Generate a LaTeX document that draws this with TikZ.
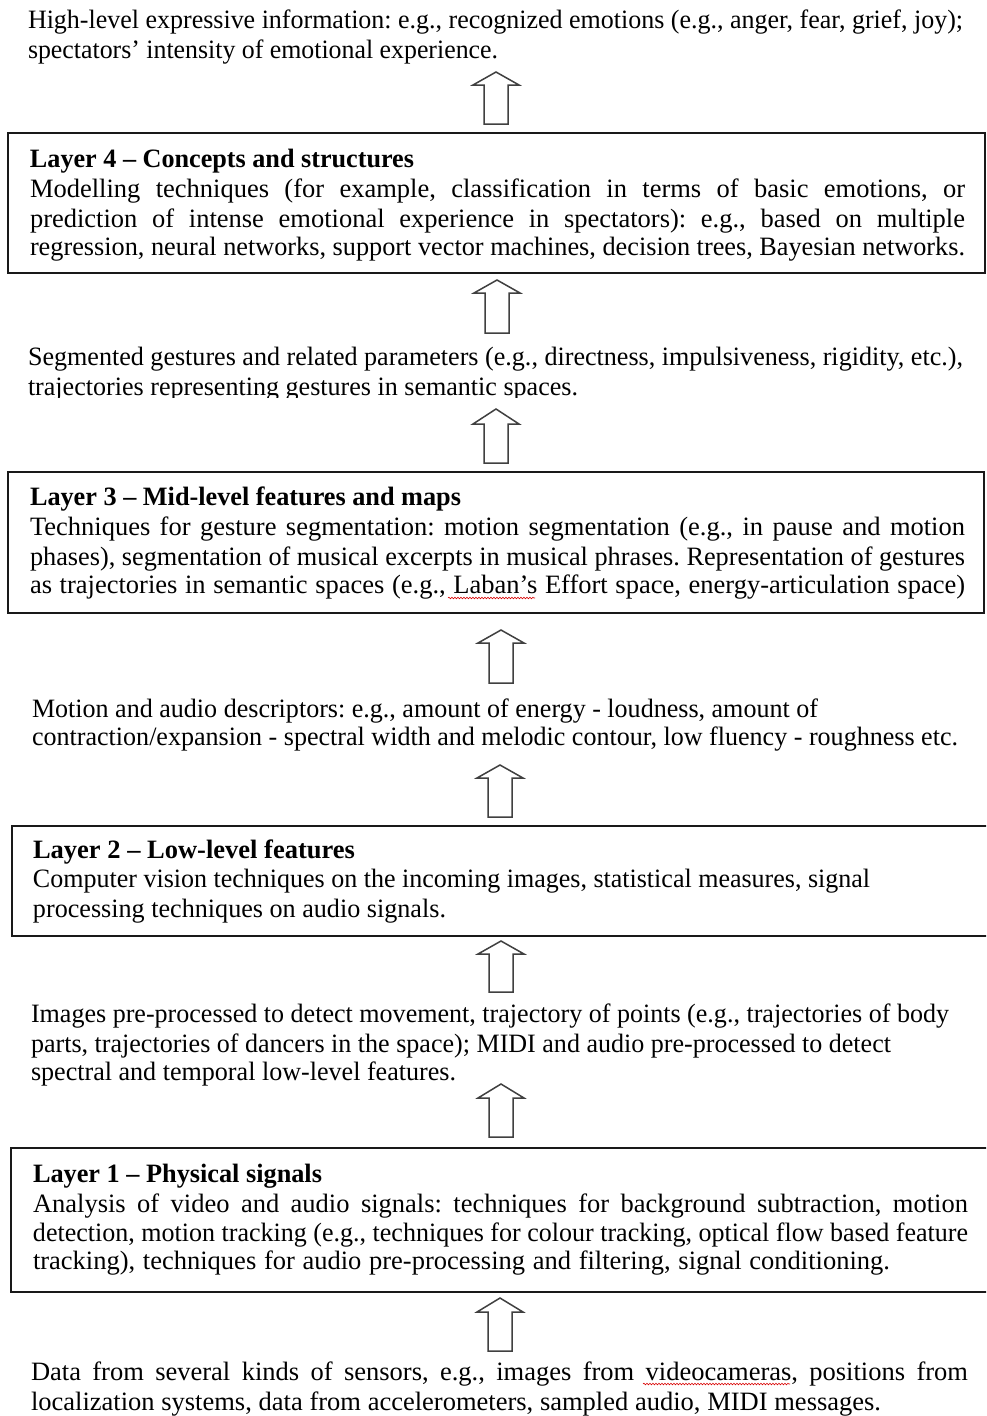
\documentclass[tikz,border=0pt]{standalone}
\usepackage{fontspec}
\setmainfont{Liberation Serif}
\usepackage{graphicx}
\usetikzlibrary{decorations.pathmorphing}
\frenchspacing
\newsavebox\fitbox
\newlength\fitw
\newcommand\fitline[2]{\sbox\fitbox{#2}\ifdim\wd\fitbox>#1\relax\resizebox{#1}{\height}{\usebox\fitbox}\else\makebox[#1][s]{#2}\fi}
\newcommand\tline[5]{\setlength\fitw{\dimexpr #4pt-#2pt\relax}\node[txt] (#1) at (#2,#3) {\fitline{\fitw}{#5}};}
\newcommand\blockarrow[5]{\coordinate (#1) at (#2,#3);
  \draw[arr] (#2-12,#5) -- (#2+12,#5) -- (#2+12,#4) -- (#2+23,#4) -- (#1) -- (#2-23,#4) -- (#2-12,#4) -- cycle;}
\tikzset{
  txt/.style={anchor=base west, inner sep=0pt, outer sep=0pt, font=\fontsize{26.5pt}{30pt}\selectfont\frenchspacing},
  layerbox/.style={draw=black!90, line width=2.4pt, anchor=north west, inner sep=0pt, outer sep=0pt},
  arr/.style={draw=black!75, line width=1.5pt, fill=white, line join=miter},
  squig/.style={draw=red!85!black, line width=0.6pt, decorate, decoration={snake, amplitude=0.8pt, segment length=3pt}}
}
\begin{document}
\begin{tikzpicture}[x=1pt, y=-1pt]
\clip (0,0) rectangle (986,1416);
\useasboundingbox (0,0) rectangle (986,1416);
\fill[white] (0,0) rectangle (986,1416);

% boxes
\node[layerbox, minimum width=977pt, minimum height=140pt] (L4) at (8,133) {};
\node[layerbox, minimum width=976pt, minimum height=141pt] (L3) at (8,472) {};
\node[layerbox, minimum width=980pt, minimum height=110pt] (L2) at (12,826) {};
\node[layerbox, minimum width=981pt, minimum height=144pt] (L1) at (11,1148) {};

% arrows
\blockarrow{a1}{496}{72}{85}{124}
\blockarrow{a2}{497}{280}{293}{333}
\blockarrow{a3}{496}{409}{424}{463}
\blockarrow{a4}{501}{630}{643}{683}
\blockarrow{a5}{500}{765}{778}{817}
\blockarrow{a6}{501}{941}{954}{992}
\blockarrow{a7}{501}{1084}{1098}{1137}
\blockarrow{a8}{500}{1298}{1312}{1351}

% text 1
\tline{t1a}{28}{28}{963}{High-level expressive information: e.g., recognized emotions (e.g., anger, fear, grief, joy);}
\tline{t1b}{28}{58}{498}{spectators’ intensity of emotional experience.}

% layer 4
\tline{l4t}{30}{167}{414}{\textbf{Layer 4 – Concepts and structures}}
\tline{l4a}{30}{197}{965}{Modelling techniques (for example, classification in terms of basic emotions, or}
\tline{l4b}{30}{227}{965}{prediction of intense emotional experience in spectators): e.g., based on multiple}
\tline{l4c}{30}{255}{965}{regression, neural networks, support vector machines, decision trees, Bayesian networks.}

% text 2
\tline{t2a}{28}{365}{963}{Segmented gestures and related parameters (e.g., directness, impulsiveness, rigidity, etc.),}
\begin{scope}
\clip (0,370) rectangle (986,397);
\tline{t2b}{28}{395}{578}{trajectories representing gestures in semantic spaces.}
\end{scope}

% layer 3
\tline{l3t}{30}{505}{461}{\textbf{Layer 3 – Mid-level features and maps}}
\tline{l3a}{30}{535}{965}{Techniques for gesture segmentation: motion segmentation (e.g., in pause and motion}
\tline{l3b}{30}{565}{965}{phases), segmentation of musical excerpts in musical phrases. Representation of gestures}
\tline{l3c}{30}{593}{965}{as trajectories in semantic spaces (e.g., Laban’s Effort space, energy-articulation space)}
\draw[squig] (448,598) -- (535,598);

% text 3
\tline{t3a}{32}{717}{818}{Motion and audio descriptors: e.g., amount of energy - loudness, amount of}
\tline{t3b}{32}{745}{958}{contraction/expansion - spectral width and melodic contour, low fluency - roughness etc.}

% layer 2
\tline{l2t}{33}{858}{355}{\textbf{Layer 2 – Low-level features}}
\tline{l2a}{33}{887}{870}{Computer vision techniques on the incoming images, statistical measures, signal}
\tline{l2b}{33}{917}{446}{processing techniques on audio signals.}

% text 4
\tline{t4a}{31}{1022}{949}{Images pre-processed to detect movement, trajectory of points (e.g., trajectories of body}
\tline{t4b}{31}{1052}{891}{parts, trajectories of dancers in the space); MIDI and audio pre-processed to detect}
\tline{t4c}{31}{1080}{456}{spectral and temporal low-level features.}

% layer 1
\tline{l1t}{33}{1182}{322}{\textbf{Layer 1 – Physical signals}}
\tline{l1a}{33}{1212}{968}{Analysis of video and audio signals: techniques for background subtraction, motion}
\tline{l1b}{33}{1241}{968}{detection, motion tracking (e.g., techniques for colour tracking, optical flow based feature}
\tline{l1c}{33}{1269}{890}{tracking), techniques for audio pre-processing and filtering, signal conditioning.}

% text 5
\tline{t5a}{31}{1380}{968}{Data from several kinds of sensors, e.g., images from videocameras, positions from}
\tline{t5b}{31}{1410}{881}{localization systems, data from accelerometers, sampled audio, MIDI messages.}
\draw[squig] (643,1384) -- (790,1384);
\end{tikzpicture}
\end{document}
